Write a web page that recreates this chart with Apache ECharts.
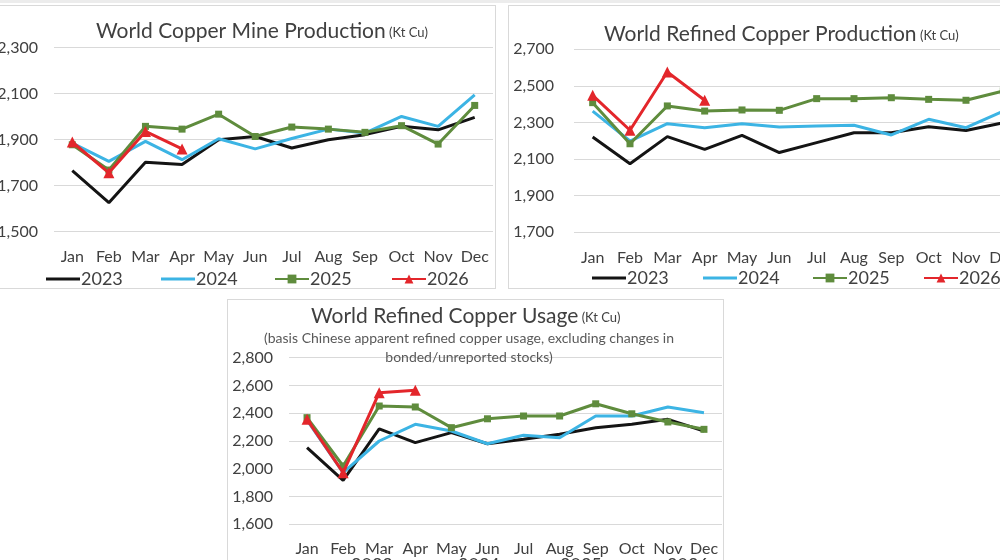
<!DOCTYPE html>
<html>
<head>
<meta charset="utf-8">
<script src="https://cdn.jsdelivr.net/npm/echarts@6/dist/echarts.min.js"></script>
<style>
  html, body { margin:0; padding:0; width:1000px; height:560px; overflow:hidden; background:#ffffff; }
  .panel { position:absolute; background:#fff; border:1px solid #d9d9d9; box-sizing:border-box; }
  #frameTop { position:absolute; left:0; top:0; width:1000px; height:3px; background:#ececec; }
</style>
</head>
<body>
<div id="frameTop"></div>
<div id="c1" class="panel" style="left:-30px; top:5px; width:526px; height:284px;"></div>
<div id="c2" class="panel" style="left:508px; top:5px; width:530px; height:284px;"></div>
<div id="c3" class="panel" style="left:227px; top:299px; width:497px; height:300px;"></div>
<script>
// ---------- data ----------
const months = ['Jan','Feb','Mar','Apr','May','Jun','Jul','Aug','Sep','Oct','Nov','Dec'];
const years = ['2023','2024','2025','2026'];

const mine2023 = [1766,1626,1802,1792,1900,1914,1864,1900,1922,1958,1943,1997];
const mine2024 = [1885,1806,1893,1813,1904,1860,1905,1946,1929,2001,1958,2095];
const mine2025 = [1878,1768,1958,1946,2011,1914,1955,1946,1932,1961,1881,2049];
const mine2026 = [1890,1756,1936,1860];

const refined2023 = [2220,2074,2222,2152,2229,2135,2189,2243,2243,2276,2256,2298];
const refined2024 = [2362,2198,2293,2271,2293,2275,2280,2284,2231,2317,2271,2362];
const refined2025 = [2408,2183,2390,2362,2368,2366,2430,2430,2435,2426,2421,2472];
const refined2026 = [2448,2257,2576,2421];

const usage2023 = [2152,1917,2288,2188,2260,2180,2212,2248,2296,2320,2356,2272];
const usage2024 = [2350,1972,2200,2320,2272,2180,2241,2224,2380,2380,2445,2404];
const usage2025 = [2368,2020,2452,2445,2296,2360,2380,2380,2468,2396,2337,2284];
const usage2026 = [2356,1972,2548,2565];

const mineTitle = 'World Copper Mine Production';
const refinedTitle = 'World Refined Copper Production';
const usageTitle = 'World Refined Copper Usage';
const unitText = '(Kt Cu)';
const usageNote1 = '(basis Chinese apparent refined copper usage, excluding changes in';
const usageNote2 = 'bonded/unreported stocks)';

// ---------- style ----------
const FONT = 'Lato, "Open Sans", sans-serif';
const TXT = '#404040';
const COLORS = ['#141414', '#3cb4e4', '#5f8c3d', '#e3262b'];

function buildSeries(vals) {
  return vals.map((d, i) => {
    const s = {
      name: years[i], type: 'line', data: d, smooth: false,
      lineStyle: { width: 3, color: COLORS[i] },
      itemStyle: { color: COLORS[i] },
      symbol: 'none', animation: false, z: 2 + i
    };
    if (i === 2) { s.symbol = 'rect'; s.symbolSize = 7; }
    if (i === 3) { s.symbol = 'triangle'; s.symbolSize = 11; }
    return s;
  });
}

function buildLegends(lefts, top) {
  return years.map((y, i) => {
    const l = {
      data: [y], left: lefts[i], top: top, itemWidth: 34, itemHeight: 11, itemGap: 0,
      textStyle: { fontFamily: FONT, fontSize: 18, color: TXT, padding: [0, 0, 0, -4] }
    };
    if (i < 2) { l.icon = 'rect'; l.itemHeight = 3; }
    return l;
  });
}

function makeChart(id, cfg) {
  const chart = echarts.init(document.getElementById(id), null, { renderer: 'canvas' });
  chart.setOption({
    animation: false,
    title: cfg.titles,
    grid: cfg.grid,
    legend: buildLegends(cfg.legendLefts, cfg.legendTop),
    xAxis: {
      type: 'category', data: months, boundaryGap: true,
      axisLine: { show: false }, axisTick: { show: false },
      axisLabel: { fontFamily: FONT, fontSize: 16, color: TXT, margin: cfg.xMargin, interval: 0 }
    },
    yAxis: {
      type: 'value', min: cfg.min, max: cfg.max, interval: 200,
      axisLine: { show: false }, axisTick: { show: false },
      splitLine: { lineStyle: { color: '#d9d9d9', width: 1 } },
      axisLabel: { fontFamily: FONT, fontSize: 16, color: TXT, margin: cfg.yMargin,
        formatter: v => v.toLocaleString('en-US') }
    },
    series: buildSeries(cfg.data)
  });
}

function titleRich(main) {
  return {
    text: '{a|' + main + '}{b| ' + unitText + '}',
    textStyle: { rich: {
      a: { fontFamily: FONT, fontSize: 21, fontWeight: 'normal', color: TXT },
      b: { fontFamily: FONT, fontSize: 13, fontWeight: 'normal', color: TXT, padding: [3, 0, 0, 0] }
    } }
  };
}

makeChart('c1', {
  titles: [Object.assign(titleRich(mineTitle), { left: 120, top: 10 })],
  grid: { left: 83, top: 41.7, width: 439, height: 184 },
  legendLefts: [70, 185, 298, 415], legendTop: 259,
  xMargin: 17, yMargin: 16, min: 1500, max: 2300,
  data: [mine2023, mine2024, mine2025, mine2026]
});

makeChart('c2', {
  titles: [Object.assign(titleRich(refinedTitle), { left: 90, top: 13 })],
  grid: { left: 65, top: 43.3, width: 448, height: 182.7 },
  legendLefts: [78, 189, 298, 409], legendTop: 258,
  xMargin: 18, yMargin: 20, min: 1700, max: 2700,
  data: [refined2023, refined2024, refined2025, refined2026]
});

makeChart('c3', {
  titles: [
    Object.assign(titleRich(usageTitle), { left: 78, top: 1 }),
    { text: usageNote1, left: 236, top: 26, textAlign: 'center',
      textStyle: { fontFamily: FONT, fontSize: 14, fontWeight: 'normal', color: '#595959' } },
    { text: usageNote2, left: 236, top: 45, textAlign: 'center',
      textStyle: { fontFamily: FONT, fontSize: 14, fontWeight: 'normal', color: '#595959' } }
  ],
  grid: { left: 61, top: 57.7, width: 433, height: 166.6 },
  legendLefts: [83, 190, 291, 398], legendTop: 251,
  xMargin: 17, yMargin: 16, min: 1600, max: 2800,
  data: [usage2023, usage2024, usage2025, usage2026]
});
</script>
</body>
</html>
